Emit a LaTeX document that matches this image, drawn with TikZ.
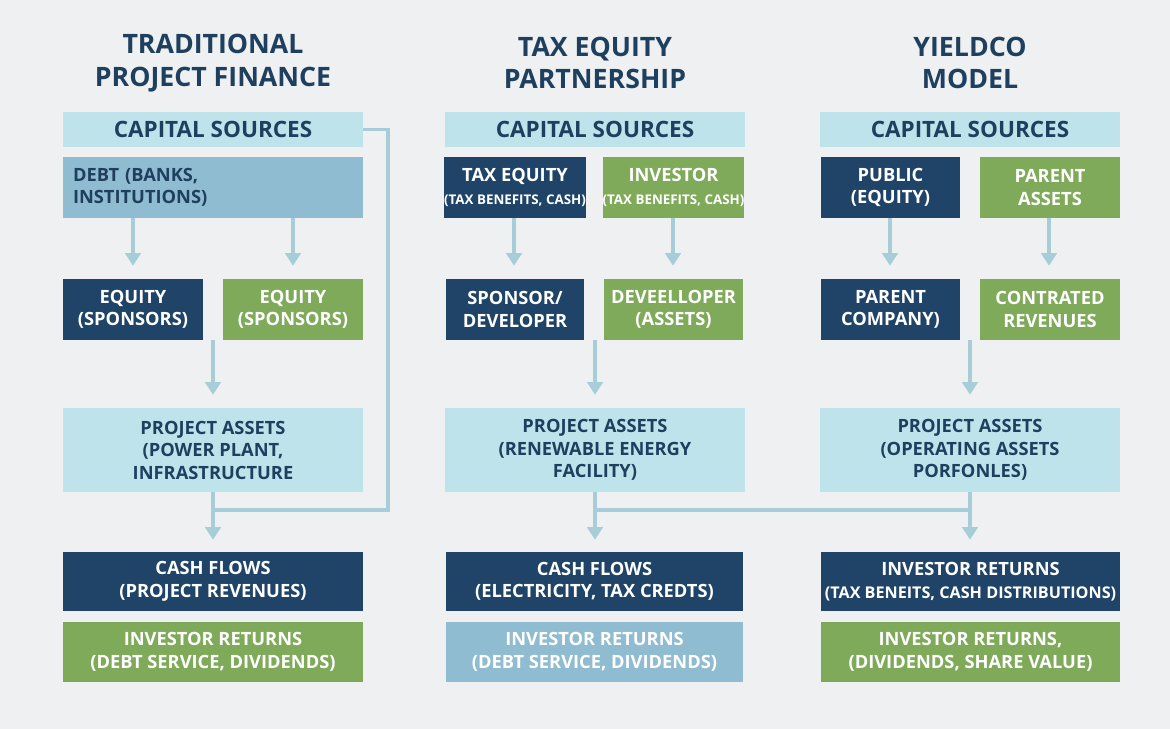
\documentclass[tikz,border=0pt]{standalone}
\usepackage{fontspec}
\setmainfont{Open Sans}
\usetikzlibrary{arrows.meta}
\definecolor{bgc}{HTML}{EEF0F1}
\definecolor{navy}{HTML}{1F4468}
\definecolor{leaf}{HTML}{7FAA5A}
\definecolor{sky}{HTML}{8FBCD0}
\definecolor{pale}{HTML}{BFE3EA}
\definecolor{link}{HTML}{A6CDD8}
\definecolor{ink}{HTML}{1F3F5E}

\begin{document}
\begin{tikzpicture}[x=0.025cm,y=-0.025cm,
    box/.style={minimum width=#1*0.025cm,inner sep=0pt,align=center,
                font=\bfseries\fontsize{13}{16}\selectfont},
    dark/.style={fill=navy,text=white},
    green/.style={fill=leaf,text=white},
    mid/.style={fill=sky,text=ink},
    light/.style={fill=pale,text=ink},
    title/.style={text=ink,align=center,font=\bfseries\fontsize{19}{23}\selectfont},
    link style/.style={draw=link,line width=2.4pt},
    arrow style/.style={link style,-{Triangle[length=9pt,width=11pt]}}]

  \fill[bgc] (0,0) rectangle (1170,729);

  % column titles
  \node[title] (t1) at (213,63) {TRADITIONAL\\PROJECT FINANCE};
  \node[title] (t2) at (595,63) {TAX EQUITY\\PARTNERSHIP};
  \node[title] (t3) at (970,63) {YIELDCO\\MODEL};

  % capital sources bars
  \foreach \c/\x in {1/213,2/595,3/970}{%
    \node[box=300,light,minimum height=35*0.025cm,font=\bfseries\fontsize{16}{18}\selectfont] (cap\c) at (\x,129.5) {CAPITAL SOURCES};
    \node[box=300,light,minimum height=84*0.025cm] (pa\c) at (\x,450) {};
  }

  % traditional project finance
  \node[box=300,mid,minimum height=61*0.025cm,align=left,text width=280*0.025cm] (debt) at (213,187.5) {DEBT (BANKS,\\INSTITUTIONS)};
  \node[box=140,dark,minimum height=61*0.025cm] (eq1) at (133,309.5) {EQUITY\\(SPONSORS)};
  \node[box=140,green,minimum height=61*0.025cm] (eq2) at (293,309.5) {EQUITY\\(SPONSORS)};
  \node[box=300,dark,minimum height=59*0.025cm] (cf1) at (213,581.5) {CASH FLOWS\\(PROJECT REVENUES)};
  \node[box=300,green,minimum height=60*0.025cm] (ir1) at (213,652) {INVESTOR RETURNS\\(DEBT SERVICE, DIVIDENDS)};
  \node[text=ink,align=center,font=\bfseries\fontsize{13}{16}\selectfont] (pt1) at (pa1) {PROJECT ASSETS\\(POWER PLANT,\\INFRASTRUCTURE};

  % tax equity partnership
  \node[box=138,dark,minimum height=61*0.025cm] (te) at (515,187.5) {TAX EQUITY\\{\fontsize{9.5}{12}\selectfont(TAX BENEFITS, CASH)}};
  \node[box=139,green,minimum height=61*0.025cm] (inv) at (673.5,187.5) {INVESTOR\\{\fontsize{9.5}{12}\selectfont(TAX BENEFITS, CASH)}};
  \node[box=138,dark,minimum height=61*0.025cm] (sp) at (515,309.5) {SPONSOR/\\DEVELOPER};
  \node[box=139,green,minimum height=61*0.025cm] (dev) at (673.5,309.5) {DEVEELLOPER\\(ASSETS)};
  \node[box=297,dark,minimum height=59*0.025cm] (cf2) at (594.5,581.5) {CASH FLOWS\\(ELECTRICITY, TAX CREDTS)};
  \node[box=297,mid,minimum height=60*0.025cm,text=white] (ir2) at (594.5,652) {INVESTOR RETURNS\\(DEBT SERVICE, DIVIDENDS)};
  \node[text=ink,align=center,font=\bfseries\fontsize{13}{16}\selectfont] (pt2) at (pa2) {PROJECT ASSETS\\(RENEWABLE ENERGY\\FACILITY)};

  % yieldco model
  \node[box=139,dark,minimum height=61*0.025cm] (pub) at (890.5,187.5) {PUBLIC\\(EQUITY)};
  \node[box=140,green,minimum height=61*0.025cm] (par) at (1050,187.5) {PARENT\\ASSETS};
  \node[box=139,dark,minimum height=61*0.025cm] (pc) at (890.5,309.5) {PARENT\\COMPANY)};
  \node[box=140,green,minimum height=61*0.025cm] (con) at (1050,309.5) {CONTRATED\\REVENUES};
  \node[box=299,dark,minimum height=59*0.025cm] (ir3) at (970.5,581.5) {INVESTOR RETURNS\\{\fontsize{11.5}{16}\selectfont(TAX BENEITS, CASH DISTRIBUTIONS)}};
  \node[box=299,green,minimum height=60*0.025cm] (ir4) at (970.5,652) {INVESTOR RETURNS,\\(DIVIDENDS, SHARE VALUE)};
  \node[text=ink,align=center,font=\bfseries\fontsize{13}{16}\selectfont] (pt3) at (pa3) {PROJECT ASSETS\\(OPERATING ASSETS\\PORFONLES)};

  % connectors
  \coordinate (j1) at (213,510);
  \coordinate (j2) at (595,510);
  \coordinate (j3) at (970,510);
  \draw[link style] (cap1.east) -| (388,510) -- (j1);
  \draw[link style] (j2) -- (j3);
  \foreach \a/\b/\x in {debt/eq1/133,debt/eq2/293,te/sp/514,inv/dev/673,pub/pc/890,par/con/1049}{%
    \draw[arrow style] (\a.south -| \x,0) -- ([yshift=13*0.025cm]\b.north -| \x,0);
  }
  \foreach \a/\b/\x in {eq1/pa1/213,sp/pa2/595,pc/pa3/970}{%
    \draw[arrow style] (\x,340) -- ([yshift=13*0.025cm]\b.north -| \x,0);
  }
  \foreach \a/\b/\x in {pa1/cf1/213,pa2/cf2/595,pa3/ir3/970}{%
    \draw[arrow style] (\a.south -| \x,0) -- ([yshift=12*0.025cm]\b.north -| \x,0);
  }
\end{tikzpicture}
\end{document}
